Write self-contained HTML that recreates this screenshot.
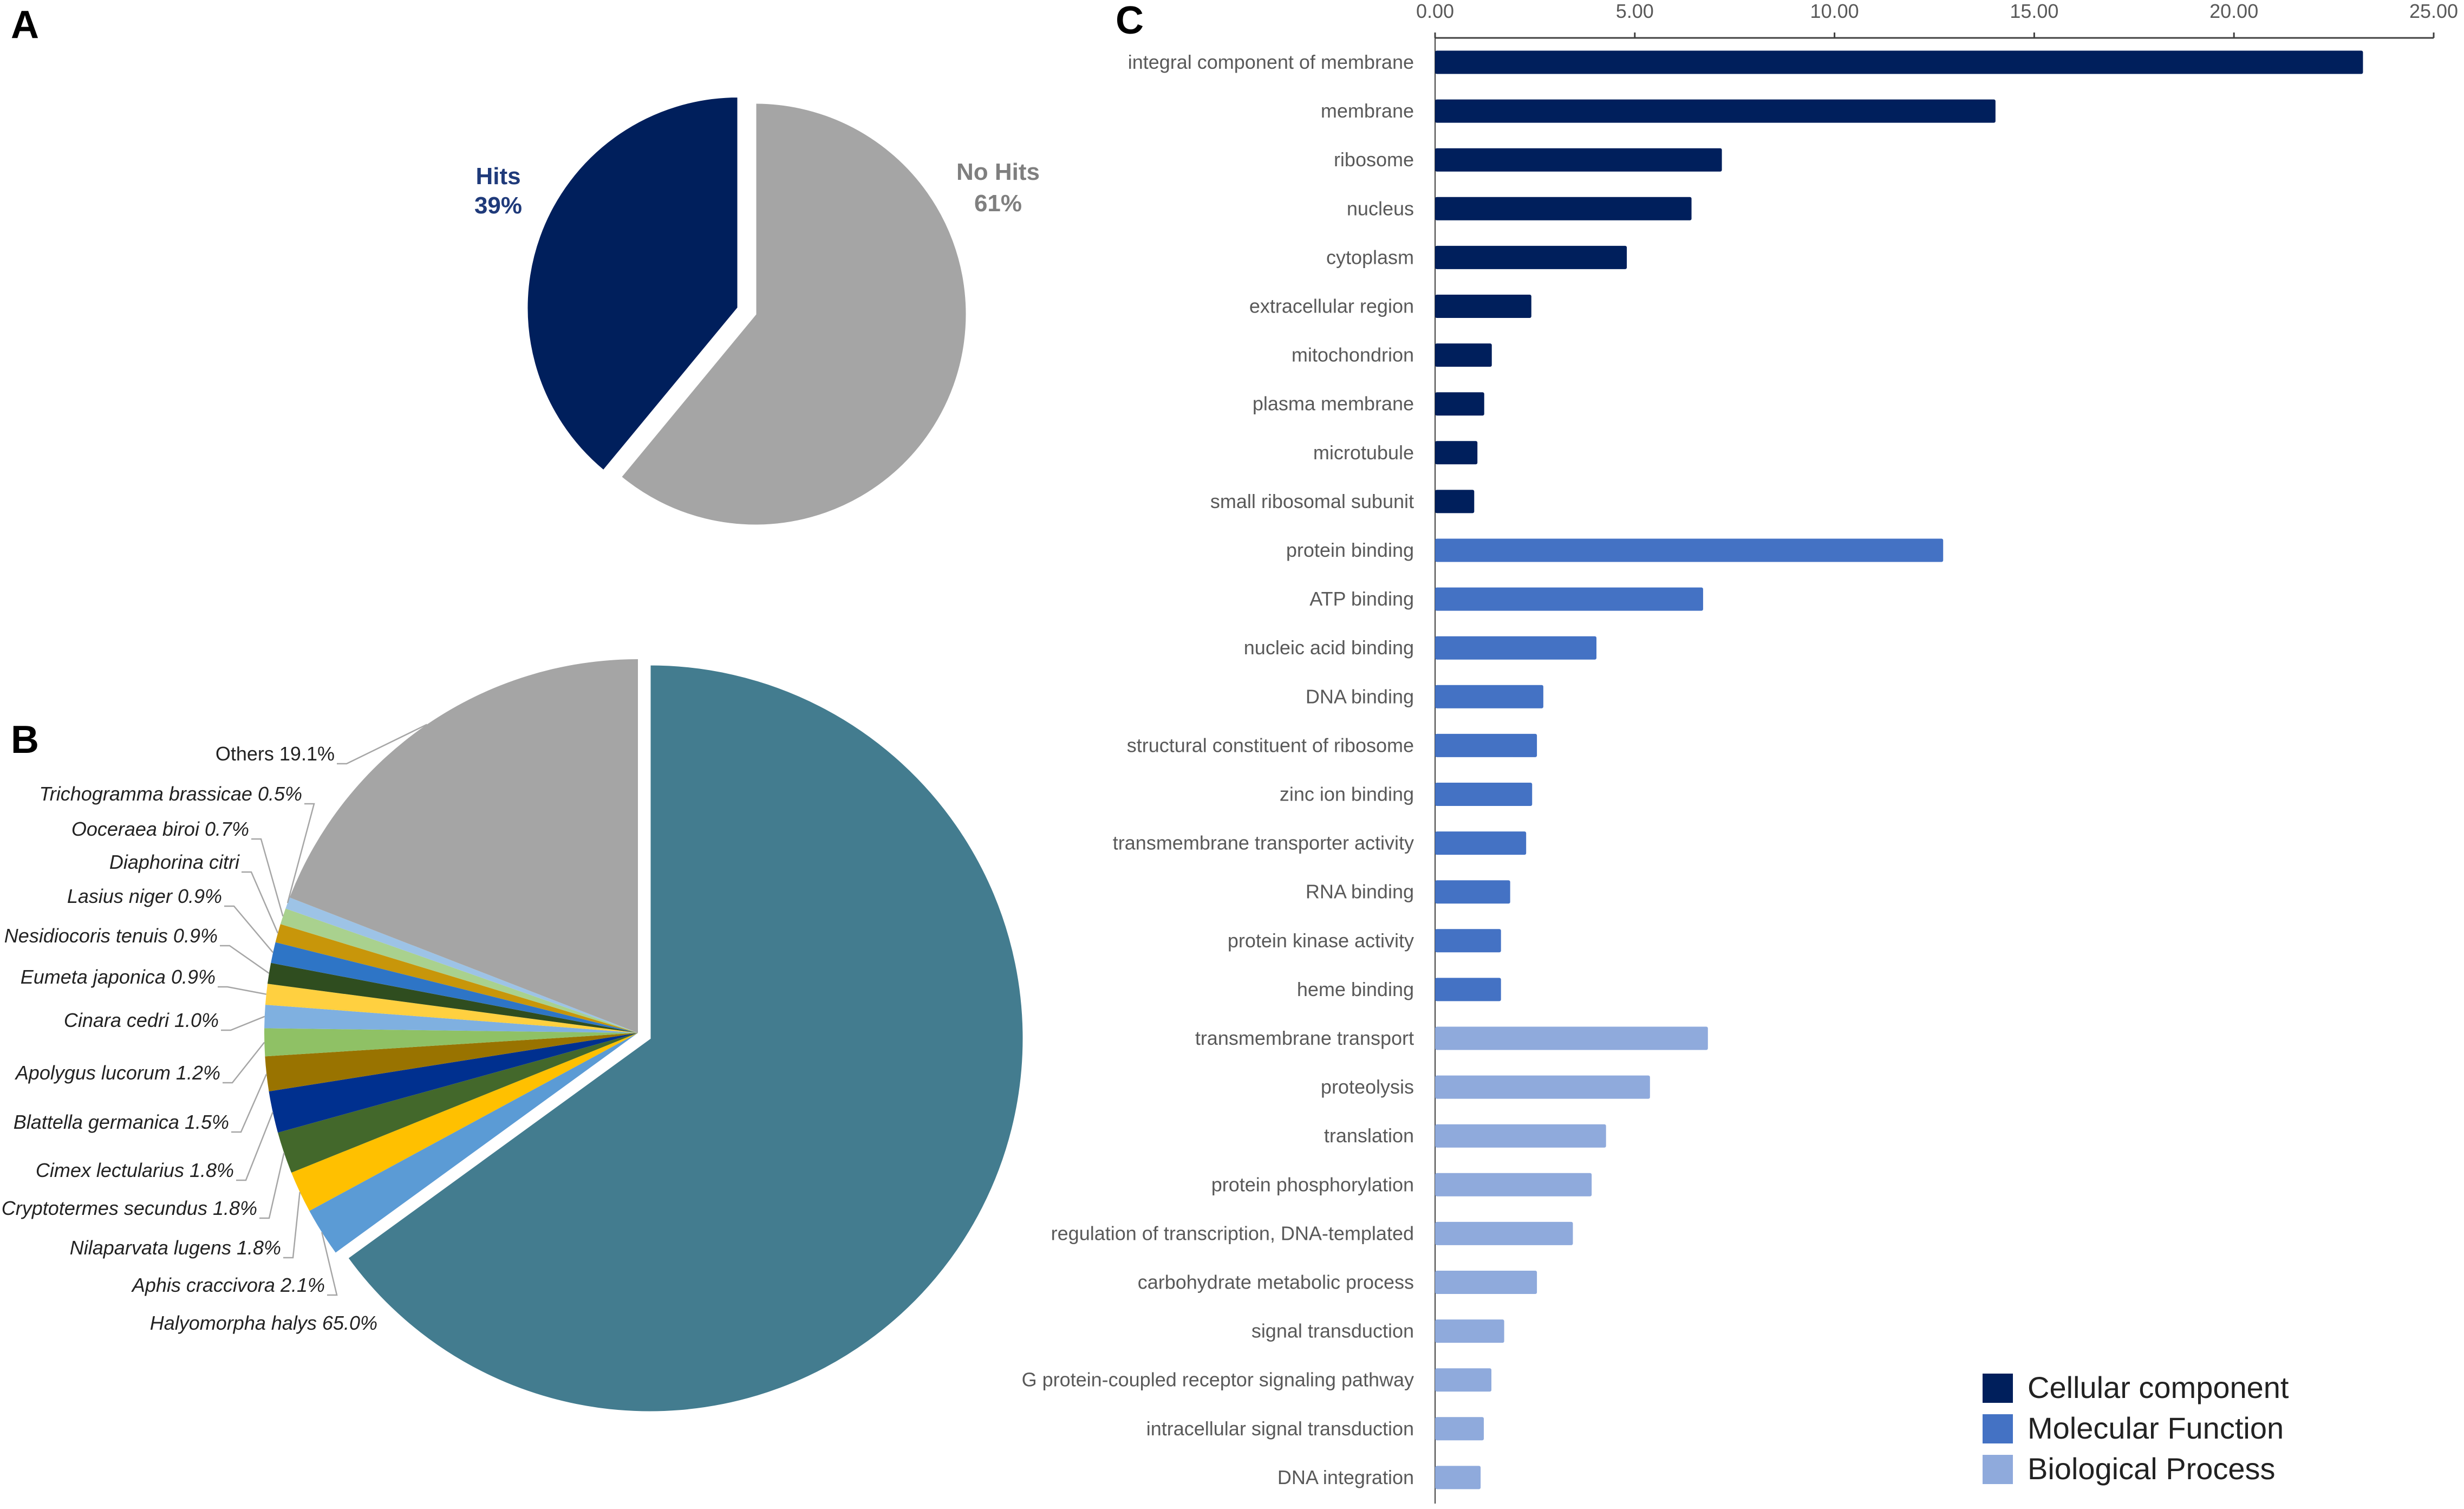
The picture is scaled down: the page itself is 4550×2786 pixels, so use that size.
<!DOCTYPE html>
<html><head><meta charset="utf-8"><style>
html,body{margin:0;padding:0;background:#fff;}
svg{display:block;font-family:"Liberation Sans",sans-serif;}
</style></head><body>
<svg id="fig" width="4550" height="2786" viewBox="0 0 4550 2786">
<text x="20" y="70" font-size="72" font-weight="bold">A</text>
<text x="20" y="1390" font-size="72" font-weight="bold">B</text>
<text x="2060" y="62" font-size="72" font-weight="bold">C</text>
<g id="pieA"></g>
<g id="pieB"></g>
<g id="bars"></g>
</svg>
<script>
const NS="http://www.w3.org/2000/svg";
function mk(tag,attrs,parent,txt){const e=document.createElementNS(NS,tag);for(const k in attrs)e.setAttribute(k,attrs[k]);if(txt!==undefined)e.textContent=txt;parent.appendChild(e);return e;}

// ---------- Pie A data ----------
const hitsLabels=["Hits","No Hits"];
const hitsValues=[39,61];

// ---------- Pie B data ----------
const speciesNames=["Halyomorpha halys","Aphis craccivora","Nilaparvata lugens","Cryptotermes secundus","Cimex lectularius","Blattella germanica","Apolygus lucorum","Cinara cedri","Eumeta japonica","Nesidiocoris tenuis","Lasius niger","Diaphorina citri","Ooceraea biroi","Trichogramma brassicae","Others"];
const speciesValues=[65.0,2.1,1.8,1.8,1.8,1.5,1.2,1.0,0.9,0.9,0.9,0.8,0.7,0.5,19.1];
const speciesLabelText=["Halyomorpha halys  65.0%","Aphis craccivora 2.1%","Nilaparvata lugens 1.8%","Cryptotermes secundus 1.8%","Cimex lectularius 1.8%","Blattella germanica  1.5%","Apolygus lucorum 1.2%","Cinara cedri 1.0%","Eumeta japonica 0.9%","Nesidiocoris tenuis 0.9%","Lasius niger 0.9%","Diaphorina citri","Ooceraea biroi 0.7%","Trichogramma brassicae 0.5%","Others  19.1%"];

// ---------- Bar chart data ----------
const goTerms=["integral component of membrane","membrane","ribosome","nucleus","cytoplasm","extracellular region","mitochondrion","plasma membrane","microtubule","small ribosomal subunit","protein binding","ATP binding","nucleic acid binding","DNA binding","structural constituent of ribosome","zinc ion binding","transmembrane transporter activity","RNA binding","protein kinase activity","heme binding","transmembrane transport","proteolysis","translation","protein phosphorylation","regulation of transcription, DNA-templated","carbohydrate metabolic process","signal transduction","G protein-coupled receptor signaling pathway","intracellular signal transduction","DNA integration"];
const goValues=[23.23,14.03,7.18,6.42,4.80,2.41,1.42,1.23,1.06,0.98,12.72,6.71,4.04,2.71,2.55,2.43,2.28,1.88,1.65,1.65,6.83,5.38,4.28,3.92,3.45,2.55,1.73,1.41,1.22,1.14];
const goCategory=[0,0,0,0,0,0,0,0,0,0,1,1,1,1,1,1,1,1,1,1,2,2,2,2,2,2,2,2,2,2];
const categoryNames=["Cellular component","Molecular Function","Biological Process"];
const xTicks=[0,5,10,15,20,25];

const catColors=["#001f5c","#4472c4","#8faadc"];

function arcPath(cx,cy,r,a0,a1){
  const p=a=>[cx+r*Math.sin(a*Math.PI/180),cy-r*Math.cos(a*Math.PI/180)];
  const s=p(a0),e=p(a1);const large=(a1-a0)>180?1:0;
  return `M${cx},${cy} L${s[0]},${s[1]} A${r},${r} 0 ${large} 1 ${e[0]},${e[1]} Z`;
}

// Pie A
(function(){
  const g=document.getElementById('pieA');
  const tot=hitsValues.reduce((a,b)=>a+b,0);
  const hitDeg=hitsValues[0]/tot*360;
  const s2=mk('path',{d:arcPath(1395,580,390,0,360-hitDeg),fill:"#a5a5a5",stroke:"#fff","stroke-width":3},g);
  
  
  const mid=360-hitDeg/2, off=34;
  const cx=1395+off*Math.sin(mid*Math.PI/180), cy=580-off*Math.cos(mid*Math.PI/180);
  const s1=mk('path',{d:arcPath(cx,cy,390,360-hitDeg,360),fill:"#001f5c",stroke:"#fff","stroke-width":3},g);
  
  
  const t1=mk('text',{x:920,y:340,"font-size":44,"font-weight":"bold",fill:"#1f3a7a","text-anchor":"middle"},g,hitsLabels[0]);
  
  
  const t2=mk('text',{x:920,y:394,"font-size":44,"font-weight":"bold",fill:"#1f3a7a","text-anchor":"middle"},g,hitsValues[0]+"%");
  
  
  const t3=mk('text',{x:1843,y:332,"font-size":44,"font-weight":"bold",fill:"#7f7f7f","text-anchor":"middle"},g,hitsLabels[1]);
  
  
  const t4=mk('text',{x:1843,y:390,"font-size":44,"font-weight":"bold",fill:"#7f7f7f","text-anchor":"middle"},g,hitsValues[1]+"%");
  
  
})();

// Pie B
(function(){
  const g=document.getElementById('pieB');
  const cols=["#437c8f","#5b9bd5","#ffc000","#43682b","#00308f","#997300","#8fc165","#7fb0e0","#ffd040","#2f4d1f","#2e75c6","#c8960a","#a9d18e","#9dc3e6","#a5a5a5"];
  const labelPos=[[697,2455],[600,2385],[519,2316],[475,2243],[432,2173],[423,2084],[407,1993],[404,1896],[398,1816],[402,1740],[410,1667],[442,1604],[460,1543],[558,1478],[618,1404]];
  const tot=speciesValues.reduce((a,b)=>a+b,0);
  let a=0;const R=690;
  speciesValues.forEach((v,i)=>{
    const d=v/tot*360;
    const cx=i===0?1200:1178, cy=i===0?1917:1907;
    const p=mk('path',{d:arcPath(cx,cy,R,a,a+d),fill:cols[i],stroke:i===0?"#fff":"none","stroke-width":3},g);
    
    
    const m=(a+d/2)*Math.PI/180;
    const ex=cx+R*Math.sin(m), ey=cy-R*Math.cos(m);
    const lp=labelPos[i];
    if(i>0){
      const ln=mk('polyline',{points:`${lp[0]+4},${lp[1]+6} ${lp[0]+22},${lp[1]+6} ${ex},${ey}`,fill:"none",stroke:"#a6a6a6","stroke-width":2.5},g);
      
      
    }
    const t=mk('text',{x:lp[0],y:lp[1],"font-size":36,"font-style":i===14?"normal":"italic",fill:"#222","text-anchor":"end"},g,speciesLabelText[i]);
    
    
    a+=d;
  });
})();

// Bars
(function(){
  const g=document.getElementById('bars');
  const x0=2650,x1=4494,max=25,axisY=70,y0=115,step=90.1,bh=43;
  const X=v=>x0+(v/max)*(x1-x0);
  const Y=i=>y0+i*step;
  const ax=mk('line',{x1:x0,y1:axisY,x2:x1,y2:axisY,stroke:"#404040","stroke-width":3},g);
  
  
  const ay=mk('line',{x1:x0,y1:axisY,x2:x0,y2:2776,stroke:"#404040","stroke-width":2},g);
  
  
  xTicks.forEach(t=>{
    const tk=mk('line',{x1:X(t),y1:axisY-10,x2:X(t),y2:axisY,stroke:"#404040","stroke-width":3},g);
    
    
    const tl=mk('text',{x:X(t),y:33,"font-size":36,fill:"#595959","text-anchor":"middle"},g,t.toFixed(2));
    
    
  });
  goTerms.forEach((name,i)=>{
    const r=mk('rect',{x:x0,y:Y(i)-bh/2,width:X(goValues[i])-x0,height:bh,rx:3,fill:catColors[goCategory[i]]},g);
    
    
    const t=mk('text',{x:2611,y:Y(i)+12,"font-size":36,fill:"#595959","text-anchor":"end"},g,name);
    
    
  });
  categoryNames.forEach((c,i)=>{
    const ly=2536+i*75;
    const sq=mk('rect',{x:3661,y:ly,width:56,height:54,fill:catColors[i]},g);
    
    
    const lt=mk('text',{x:3744,y:ly+45,"font-size":56,fill:"#222"},g,c);
    
    
  });
})();
</script>
</body></html>
